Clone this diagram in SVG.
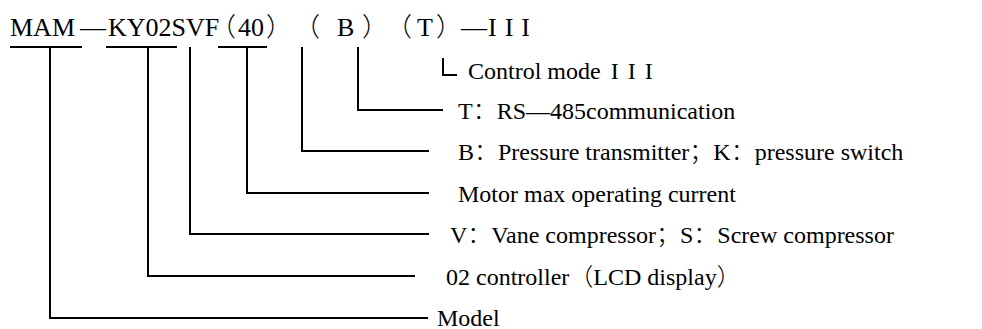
<svg xmlns="http://www.w3.org/2000/svg" width="982" height="329" viewBox="0 0 982 329">
<style>
text{font-family:"Liberation Serif","Times New Roman","Noto Sans CJK SC",serif;fill:#000}
.top{font-size:26px}
.lbl{font-size:24px}
.c{font-family:"Noto Sans CJK SC",sans-serif;font-weight:300}
.ln{stroke:#000;stroke-width:2;fill:none}
</style>
<rect width="982" height="329" fill="#fff"/>
<g id="code">
<text class="top" y="36"><tspan x="10">MAM</tspan><tspan x="80">—</tspan><tspan x="108">KY02SVF</tspan><tspan class="c" x="210">（</tspan><tspan x="238">40</tspan><tspan class="c" x="266">）</tspan><tspan class="c" x="294">（</tspan><tspan x="337">B</tspan><tspan class="c" x="362">）</tspan><tspan class="c" x="386">（</tspan><tspan x="417">T</tspan><tspan class="c" x="436">）</tspan><tspan x="461">—</tspan><tspan x="488" letter-spacing="8">III</tspan></text>
</g>
<g id="connectors">
<path class="ln" d="M10 47H82M50 47V318H428"/>
<path class="ln" d="M106 47H177M148 47V276H415"/>
<path class="ln" d="M190 47V234H429"/>
<path class="ln" d="M218 47H267M247 47V193H429"/>
<path class="ln" d="M302 47V151H429"/>
<path class="ln" d="M358 47V110H443"/>
<path class="ln" d="M443 58V75H457"/>
</g>
<g id="n-control"><text class="lbl" x="468" y="79">Control mode <tspan dx="4" letter-spacing="9">III</tspan></text></g>
<g id="n-t"><text class="lbl" x="458" y="119">T<tspan class="c">：</tspan>RS—485communication</text></g>
<g id="n-b"><text class="lbl" x="458" y="160">B<tspan class="c">：</tspan>Pressure transmitter<tspan class="c">；</tspan>K<tspan class="c">：</tspan>pressure switch</text></g>
<g id="n-motor"><text class="lbl" x="458" y="202">Motor max operating current</text></g>
<g id="n-v"><text class="lbl" x="450" y="243">V<tspan class="c">：</tspan>Vane compressor<tspan class="c">；</tspan>S<tspan class="c">：</tspan>Screw compressor</text></g>
<g id="n-02"><text class="lbl" x="446" y="285">02 controller<tspan class="c">（</tspan>LCD display<tspan class="c">）</tspan></text></g>
<g id="n-model"><text class="lbl" x="437" y="326">Model</text></g>
</svg>
